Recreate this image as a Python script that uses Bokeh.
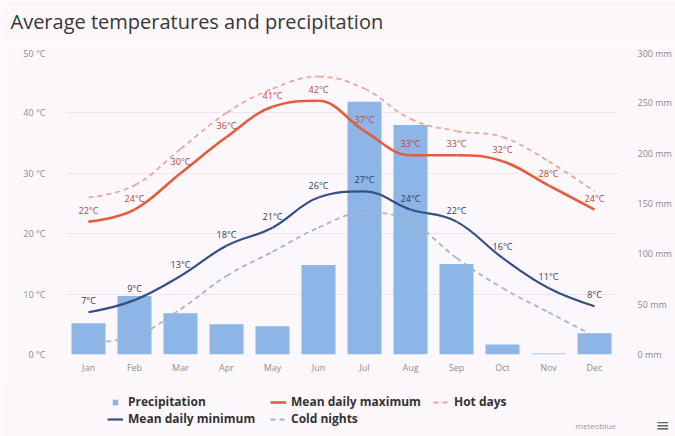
from bokeh.plotting import figure
from bokeh.layouts import column
from bokeh.models import (FactorRange, Range1d, LinearAxis, FixedTicker,
                          PrintfTickFormatter, Legend, LegendItem, Label)
from bokeh.embed import file_html
from bokeh.resources import INLINE
from bokeh.core.properties import value

# Monthly climate normals
months = ["Jan", "Feb", "Mar", "Apr", "May", "Jun",
          "Jul", "Aug", "Sep", "Oct", "Nov", "Dec"]
precipitation = [31, 58, 41, 30, 28, 89, 251, 228, 90, 10, 1, 21]   # mm
mean_max = [22, 24, 30, 36, 41, 42, 37, 33, 33, 32, 28, 24]          # °C
mean_min = [7, 9, 13, 18, 21, 26, 27, 24, 22, 16, 11, 8]             # °C
hot_days = [26, 28, 34, 40, 44, 46, 44, 39, 37, 36, 32, 27]          # °C
cold_nights = [2, 3, 7.5, 13, 17, 21, 23.5, 22, 16, 11, 7, 3]        # °C
temp_ticks = [0, 10, 20, 30, 40, 50]
precip_ticks = [0, 50, 100, 150, 200, 250, 300]

BG = "#fcf7fa"
FONT = "Open Sans"
C_BAR = "#8db5e6"
C_MAX = "#e45c3c"
C_MIN = "#34508a"
C_HOT = "#f1a594"
C_COLD = "#a3b5d0"
NAN = float("nan")
W = 675


def spline_segments(ys, smoothing=1.5):
    """Cubic Bezier segments through the points (x at category centres)."""
    xs = [i + 0.5 for i in range(len(ys))]
    denom = smoothing + 1.0
    n = len(ys)
    lc = [(xs[i], ys[i]) for i in range(n)]
    rc = [(xs[i], ys[i]) for i in range(n)]
    for i in range(1, n - 1):
        px, py = xs[i], ys[i]
        lx, ly = xs[i - 1], ys[i - 1]
        nx, ny = xs[i + 1], ys[i + 1]
        lcx = (smoothing * px + lx) / denom
        lcy = (smoothing * py + ly) / denom
        rcx = (smoothing * px + nx) / denom
        rcy = (smoothing * py + ny) / denom
        if rcx != lcx:
            corr = ((rcy - lcy) * (rcx - px)) / (rcx - lcx) + py - rcy
            lcy += corr
            rcy += corr
        if lcy > ly and lcy > py:
            lcy = max(ly, py); rcy = 2 * py - lcy
        elif lcy < ly and lcy < py:
            lcy = min(ly, py); rcy = 2 * py - lcy
        if rcy > ny and rcy > py:
            rcy = max(ny, py); lcy = 2 * py - rcy
        elif rcy < ny and rcy < py:
            rcy = min(ny, py); lcy = 2 * py - rcy
        lc[i] = (lcx, lcy)
        rc[i] = (rcx, rcy)
    seg = dict(x0=[], y0=[], x1=[], y1=[], cx0=[], cy0=[], cx1=[], cy1=[])
    for i in range(n - 1):
        seg["x0"].append(xs[i]); seg["y0"].append(ys[i])
        seg["x1"].append(xs[i + 1]); seg["y1"].append(ys[i + 1])
        seg["cx0"].append(rc[i][0]); seg["cy0"].append(rc[i][1])
        seg["cx1"].append(lc[i + 1][0]); seg["cy1"].append(lc[i + 1][1])
    return seg


def strip(height):
    """A bare full-width panel for the heading and the footer."""
    s = figure(width=W, height=height, x_range=Range1d(0, W),
               y_range=Range1d(0, height), output_backend="svg",
               toolbar_location=None, x_axis_location=None,
               y_axis_location=None, min_border_left=0, min_border_right=0,
               min_border_top=0, min_border_bottom=0)
    s.frame_align = False
    s.grid.visible = False
    s.background_fill_color = BG
    s.border_fill_color = BG
    s.outline_line_color = None
    return s


# ---- heading ----------------------------------------------------------------
head = strip(46)
head.add_layout(Label(x=10, y=25, x_units="screen", y_units="screen",
                      text="Average temperatures and precipitation",
                      text_font=FONT, text_font_size="20px",
                      text_baseline="middle", text_color="#383838"))

# ---- main chart -------------------------------------------------------------
p = figure(width=W, height=334, x_range=FactorRange(*months),
           y_range=Range1d(0, 50), output_backend="svg", toolbar_location=None,
           min_border_left=65, min_border_right=58, min_border_top=6,
           min_border_bottom=26)
p.frame_align = False
p.background_fill_color = BG
p.border_fill_color = BG
p.outline_line_color = None

p.extra_y_ranges = {"precip": Range1d(0, 300)}

# Temperature axis (left)
yax = p.yaxis[0]
yax.ticker = FixedTicker(ticks=temp_ticks)
yax.formatter = PrintfTickFormatter(format="%d °C")
# Precipitation axis (right)
rax = LinearAxis(y_range_name="precip", ticker=FixedTicker(ticks=precip_ticks),
                 formatter=PrintfTickFormatter(format="%d mm"))
p.add_layout(rax, "right")

for ax in (yax, rax):
    ax.axis_line_color = None
    ax.major_tick_line_color = None
    ax.minor_tick_line_color = None
    ax.major_label_text_font = FONT
    ax.major_label_text_font_size = "9px"
    ax.major_label_text_color = "#8a8a8a"
    ax.major_label_standoff = 14

xax = p.xaxis[0]
xax.axis_line_color = None
xax.major_tick_line_color = None
xax.major_tick_out = 0
xax.major_label_text_font = FONT
xax.major_label_text_font_size = "9px"
xax.major_label_text_color = "#8f8f8f"
xax.major_label_standoff = 6

p.xgrid.grid_line_color = None
p.ygrid.ticker = FixedTicker(ticks=temp_ticks)
p.ygrid.grid_line_color = "#efe4ec"

# Precipitation bars
p.vbar(x=months, top=precipitation, width=0.74, y_range_name="precip",
       fill_color=C_BAR, line_color=None)

# Temperature curves
def curve(ys, color, width, dash="solid"):
    return p.bezier(source=spline_segments(ys), x0="x0", y0="y0", x1="x1",
                    y1="y1", cx0="cx0", cy0="cy0", cx1="cx1", cy1="cy1",
                    line_color=color, line_width=width, line_dash=dash)

curve(cold_nights, C_COLD, 1.8, "5 4")
curve(hot_days, C_HOT, 1.8, "5 4")
curve(mean_max, C_MAX, 2.6)
curve(mean_min, C_MIN, 2.2)

# Value labels
p.text(x=months, y=mean_max, text=[f"{v}°C" for v in mean_max],
       text_font=value(FONT), text_font_size="9px", text_color="#b8472f",
       text_align="center", text_baseline="bottom", y_offset=-5)
p.text(x=months, y=mean_min, text=[f"{v}°C" for v in mean_min],
       text_font=value(FONT), text_font_size="9px", text_color="#2f3b58",
       text_align="center", text_baseline="bottom", y_offset=-5)

# ---- footer: legend and credits --------------------------------------------
f = strip(56)

# legend keys: a single empty (NaN) point each, carrying the series style
k_bar = f.scatter(x=[NAN], y=[NAN], marker="square", size=9, fill_color=C_BAR,
                  line_color=None)
k_min = f.line(x=[NAN], y=[NAN], line_color=C_MIN, line_width=2.2)
k_max = f.line(x=[NAN], y=[NAN], line_color=C_MAX, line_width=2.6)
k_cold = f.line(x=[NAN], y=[NAN], line_color=C_COLD, line_width=1.8,
                line_dash="5 4")
k_hot = f.line(x=[NAN], y=[NAN], line_color=C_HOT, line_width=1.8,
               line_dash="5 4")

legend = Legend(items=[
    LegendItem(label="Precipitation", renderers=[k_bar]),
    LegendItem(label="Mean daily minimum", renderers=[k_min]),
    LegendItem(label="Mean daily maximum", renderers=[k_max]),
    LegendItem(label="Cold nights", renderers=[k_cold]),
    LegendItem(label="Hot days", renderers=[k_hot]),
], location=(107, 9), orientation="vertical", ncols=3,
    background_fill_alpha=0, border_line_color=None, padding=0, margin=0,
    spacing=0, glyph_width=16, glyph_height=14, label_standoff=5,
    label_width=142, label_height=14, label_text_font=FONT,
    label_text_font_size="12px", label_text_font_style="bold",
    label_text_color="#333333")
f.add_layout(legend, "center")

f.add_layout(Label(x=575, y=6, x_units="screen", y_units="screen",
                   text="meteoblue", text_font=FONT, text_font_size="8px",
                   text_color="#9a9a9a"))
f.add_layout(Label(x=655, y=12, x_units="screen", y_units="screen",
                   text="≡", text_font="DejaVu Sans", text_font_size="17px",
                   text_baseline="middle", text_color="#666666"))

open("out.html", "w").write(file_html(column(head, p, f, spacing=0), INLINE))
